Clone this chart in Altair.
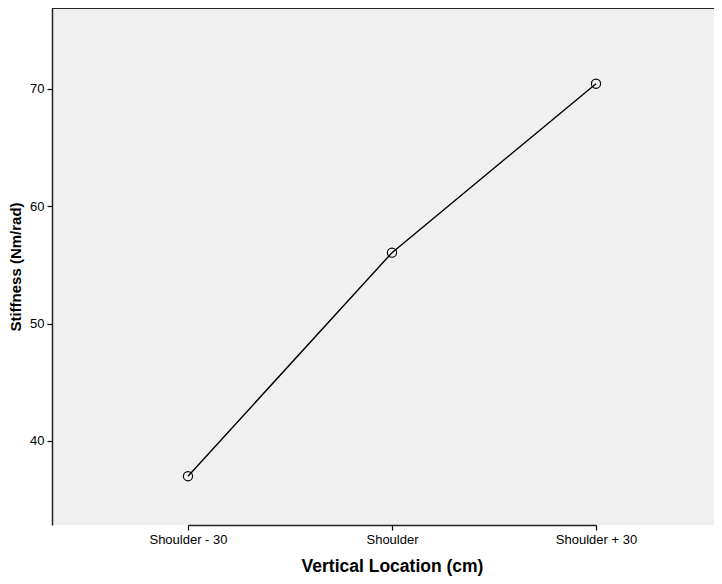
import altair as alt
import pandas as pd

categories = ["Shoulder - 30", "Shoulder", "Shoulder + 30"]
stiffness = [37.0, 56.05, 70.45]
y_ticks = [40, 50, 60, 70]

df = pd.DataFrame({"loc": categories, "stiff": stiffness})

W, H = 662, 517

x = alt.X("loc:N", sort=categories,
          scale=alt.Scale(type="point", range=[136, 544], padding=0),
          axis=alt.Axis(title="Vertical Location (cm)", labelAngle=0,
                        labelFont="Liberation Sans", labelFontSize=13, labelColor="#000",
                        labelPadding=3, tickSize=5, tickColor="#000", tickWidth=1.2,
                        domainColor="#222", domainWidth=1.5,
                        titleFont="Liberation Sans", titleFontSize=17.5, titleFontWeight="bold",
                        titleColor="#000", titleY=46, titleBaseline="alphabetic", grid=False))
y = alt.Y("stiff:Q",
          scale=alt.Scale(domain=[32.84, 76.9], nice=False, zero=False),
          axis=alt.Axis(title="Stiffness (Nm/rad)", values=y_ticks,
                        labelFont="Liberation Sans", labelFontSize=13, labelColor="#000",
                        labelPadding=3, tickSize=5, tickColor="#000", tickWidth=1.2,
                        domainColor="#222", domainWidth=1.5,
                        titleFont="Liberation Sans", titleFontSize=15, titleFontWeight="bold",
                        titleColor="#000", titleX=-37, titleBaseline="middle", grid=False))

line = alt.Chart(df).mark_line(color="#000", strokeWidth=1.4).encode(x=x, y=y)
pts = alt.Chart(df).mark_point(shape="circle", filled=False, color="#000", size=85,
                               strokeWidth=1.2, opacity=1).encode(x=x, y=y)
top = alt.Chart(df).mark_rule(color="#222", strokeWidth=2).encode(
    x=alt.value(0), x2=alt.value(W), y=alt.value(0))

chart = alt.layer(line, pts, top).properties(
    width=W, height=H,
    background="white",
    autosize=alt.AutoSizeParams(type="none"),
    padding={"left": 44, "top": 0, "right": 0, "bottom": 51},
).configure_view(fill="#F0F0F0", stroke=None)

chart.save("out.html", embed_options={"renderer": "svg", "actions": False})
